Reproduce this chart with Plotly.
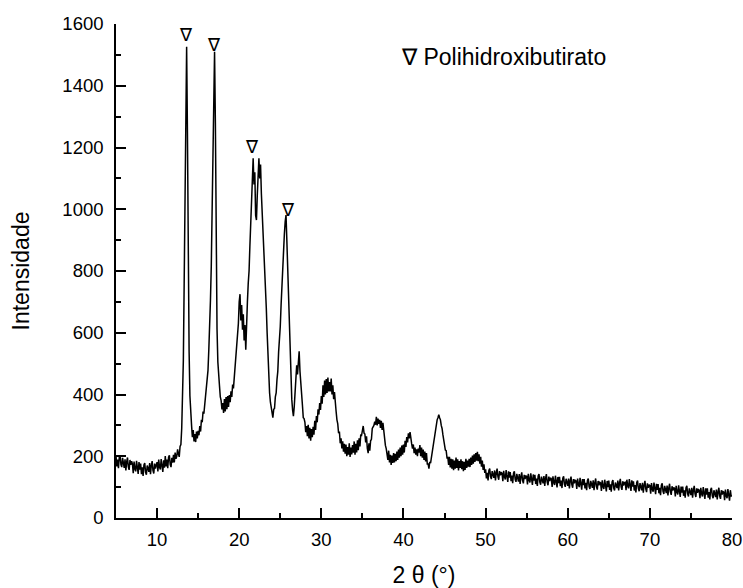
import numpy as np
import plotly.graph_objects as go

# 2-theta grid: starts at 5.0 deg, step 0.1 deg, up to 80.0 deg
theta_start = 5.0
theta_step = 0.1

intensity = [
    201,167,189,161,197,203,173,165,195,179,   # 5
    162,190,154,182,196,166,156,188,172,184,   # 6
    175,145,183,159,151,185,167,143,181,157,   # 7
    176,142,164,136,172,178,148,140,170,154,   # 8
    150,178,142,170,184,154,144,176,160,172,   # 9
    181,151,189,165,157,191,173,149,187,163,   # 10
    201,167,189,161,197,203,173,165,195,179,   # 11
    205,180,212,192,200,222,208,198,232,238,   # 12
    290,370,510,760,1050,1390,1526,1240,830,540,   # 13
    395,318,300,262,285,248,272,246,280,258,   # 14
    282,268,298,280,318,310,345,338,372,392,   # 15
    410,445,478,545,605,705,815,985,1175,1395,   # 16
    1510,1280,870,612,505,445,428,392,380,352,   # 17
    372,340,385,345,392,352,395,360,398,375,   # 18
    410,392,432,420,455,470,525,540,590,630,   # 19
    700,725,640,690,610,660,575,625,545,650,   # 20
    700,760,800,880,950,1020,1100,1165,1080,1120,   # 21
    980,965,1045,1110,1165,1100,1145,1050,995,925,   # 22
    890,830,760,680,600,520,450,405,375,352,   # 23
    345,325,352,355,392,405,448,475,538,570,   # 24
    620,690,760,810,860,920,960,981,900,820,   # 25
    740,620,510,437,385,350,330,360,410,460,   # 26
    495,465,525,540,475,445,395,365,325,322,   # 27
    310,278,298,265,302,258,292,250,288,262,   # 28
    295,270,315,285,330,310,352,335,372,350,   # 29
    395,370,430,392,445,400,450,405,455,410,   # 30
    440,410,452,400,430,385,408,360,345,318,   # 31
    305,275,280,242,258,225,248,215,240,208,   # 32
    238,200,230,205,242,198,228,206,236,212,   # 33
    248,205,240,212,252,220,258,232,270,268,   # 34
    290,298,275,272,245,265,225,210,242,218,   # 35
    250,255,290,295,300,312,302,328,300,322,   # 36
    305,318,292,315,285,308,275,268,235,225,   # 37
    212,188,218,180,205,172,202,178,210,180,   # 38
    208,184,215,188,222,195,228,200,235,205,   # 39
    238,212,250,230,262,245,274,258,278,245,   # 40
    240,225,238,210,228,205,222,200,225,212,   # 41
    236,200,228,195,222,188,215,183,210,175,   # 42
    175,160,182,178,200,210,232,248,265,285,   # 43
    300,318,325,335,325,318,300,290,270,252,   # 44
    245,220,218,195,196,172,198,164,192,160,   # 45
    190,155,186,160,196,162,190,154,184,162,   # 46
    190,158,184,152,182,156,192,162,186,166,   # 47
    192,165,196,172,202,176,206,182,210,186,   # 48
    214,184,206,176,198,166,186,156,174,146,   # 49
    158,128,146,122,154,160,134,126,152,138,   # 50
    130,154,122,146,160,134,124,152,138,148,   # 51
    145,119,153,133,125,155,139,117,151,131,   # 52
    149,119,137,113,145,151,125,117,143,129,   # 53
    118,142,110,134,148,122,112,140,126,136,   # 54
    135,109,143,123,115,145,129,107,141,121,   # 55
    140,110,128,104,136,142,116,108,134,120,   # 56
    112,136,104,128,142,116,106,134,120,130,   # 57
    127,101,135,115,107,137,121,99,133,113,    # 58
    133,103,121,97,129,135,109,101,127,113,    # 59
    104,128,96,120,134,108,98,126,112,122,     # 60
    120,94,128,108,100,130,114,92,126,106,     # 61
    126,96,114,90,122,128,102,94,120,106,      # 62
    98,122,90,114,128,102,92,120,106,116,      # 63
    114,88,122,102,94,124,108,86,120,100,      # 64
    121,91,109,85,117,123,97,89,115,101,       # 65
    97,121,89,113,127,101,91,119,105,115,      # 66
    116,90,124,104,96,126,110,88,122,102,      # 67
    119,89,107,83,115,121,95,87,113,99,        # 68
    90,114,82,106,120,94,84,112,98,108,        # 69
    105,79,113,93,85,115,99,77,111,91,         # 70
    110,80,98,74,106,112,86,78,104,90,         # 71
    81,105,73,97,111,85,75,103,89,99,          # 72
    96,70,104,84,76,106,90,68,102,82,          # 73
    102,72,90,66,98,104,78,70,96,82,           # 74
    74,98,66,90,104,78,68,96,82,92,            # 75
    90,64,98,78,70,100,84,62,96,76,            # 76
    96,66,84,60,92,98,72,64,90,76,             # 77
    68,92,60,84,98,72,62,90,76,86,             # 78
    84,58,92,72,64,94,78,56,90,70,             # 79
    74,                                        # 80
]

two_theta = np.round(theta_start + theta_step * np.arange(len(intensity)), 1)

# Peak markers (PHB reflections)
mark_x = [13.5, 16.9, 21.6, 25.9]
mark_y = [1560, 1527, 1196, 993]
mark_symbol = "\u2207"

legend_label = "\u2207 Polihidroxibutirato"

x_ticks = [10, 20, 30, 40, 50, 60, 70, 80]
y_ticks = [0, 200, 400, 600, 800, 1000, 1200, 1400, 1600]

FONT = "Liberation Sans, Arial, Helvetica, sans-serif"

fig = go.Figure()
fig.add_trace(go.Scatter(
    x=two_theta, y=intensity, mode="lines",
    line=dict(color="black", width=1.5), showlegend=False, hoverinfo="skip",
))
fig.add_trace(go.Scatter(
    x=mark_x, y=mark_y, mode="text", text=[mark_symbol] * len(mark_x),
    textposition="middle center",
    textfont=dict(family=FONT, size=18, color="black"), showlegend=False,
))

fig.add_annotation(
    x=0.46, y=0.933, xref="paper", yref="paper", xanchor="left", yanchor="middle",
    text=legend_label, showarrow=False,
    font=dict(family=FONT, size=23, color="black"),
)

fig.update_layout(
    width=743, height=588,
    margin=dict(l=116, r=11, t=24, b=70),
    paper_bgcolor="white", plot_bgcolor="white",
    font=dict(family=FONT, color="black"),
    showlegend=False,
)
fig.update_xaxes(
    range=[5, 80], tickvals=x_ticks, ticktext=[str(v) for v in x_ticks],
    showgrid=False, zeroline=False, showline=True, linecolor="black", linewidth=1.6,
    ticks="inside", ticklen=10, tickwidth=1.6, tickcolor="black",
    minor=dict(ticks="inside", ticklen=5, tickwidth=1.6, tickcolor="black", dtick=5, tick0=5, showgrid=False),
    tickfont=dict(family=FONT, size=18.5), ticklabelstandoff=4,
    title=dict(text="2 \u03b8 (\u00b0)", font=dict(family=FONT, size=23), standoff=18),
    automargin=False,
)
fig.update_yaxes(
    range=[0, 1600], tickvals=y_ticks, ticktext=[str(v) for v in y_ticks],
    showgrid=False, zeroline=False, showline=True, linecolor="black", linewidth=1.6,
    ticks="inside", ticklen=10, tickwidth=1.6, tickcolor="black",
    minor=dict(ticks="inside", ticklen=5, tickwidth=1.6, tickcolor="black", dtick=100, tick0=0, showgrid=False),
    tickfont=dict(family=FONT, size=18.5), ticklabelstandoff=7,
    title=dict(text="Intensidade", font=dict(family=FONT, size=23), standoff=26),
    automargin=False,
)

fig.write_html("out.html")
